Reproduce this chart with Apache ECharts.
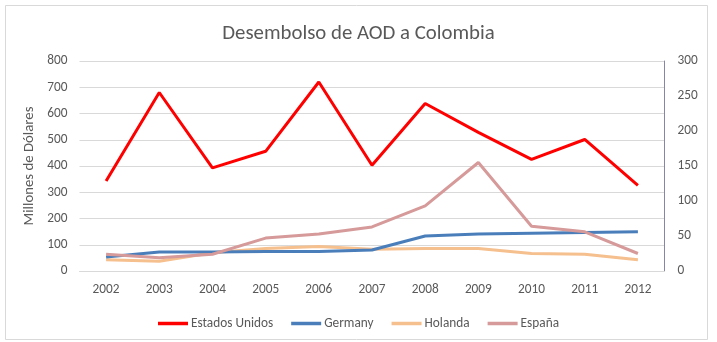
<!DOCTYPE html>
<html>
<head>
<meta charset="utf-8">
<script src="https://cdn.jsdelivr.net/npm/echarts@6/dist/echarts.min.js"></script>
<style>html,body{margin:0;padding:0;background:#fff;}#c{width:717px;height:342px;}</style>
</head>
<body>
<div id="c"></div>
<script>
const years = ['2002','2003','2004','2005','2006','2007','2008','2009','2010','2011','2012'];
const estadosUnidos = [343, 680, 393, 456, 720, 403, 638, 528, 425, 501, 326];
const germany = [20, 27, 27, 28, 28, 30, 50, 53, 54, 55, 56];
const holanda = [16, 14, 26, 32, 35, 31, 32, 32, 25, 24, 16];
const espana = [24, 19, 24, 47, 53, 63, 93, 155, 64, 56, 25];

const chart = echarts.init(document.getElementById('c'));
const font = 'Calibri, Carlito, "Open Sans", "Noto Sans", sans-serif';
const txt = '#595959';
function line(name, data, color, axis, z) {
  return {
    name, type: 'line', data, yAxisIndex: axis, symbol: 'none',
    lineStyle: { color, width: 3 }, itemStyle: { color }, z
  };
}
chart.setOption({
  animation: false,
  backgroundColor: '#fff',
  graphic: [{
    type: 'rect', shape: { x: 5.5, y: 5.5, width: 702, height: 334 },
    style: { fill: 'none', stroke: '#d9d9d9', lineWidth: 1 }, silent: true, z: -1
  }],
  title: {
    text: 'Desembolso de AOD a Colombia', left: 'center', top: 18,
    textStyle: { fontFamily: font, fontSize: 20.8, fontWeight: 'normal', color: txt }
  },
  grid: { left: 79.5, right: 52.5, top: 61, bottom: 71 },
  legend: {
    top: 312, left: 'center', itemWidth: 30, itemHeight: 3.5, itemGap: 18,
    icon: 'rect',
    textStyle: { fontFamily: font, fontSize: 13.3, color: txt, padding: [0, 0, 0, -2] },
    data: ['Estados Unidos', 'Germany', 'Holanda', 'España']
  },
  xAxis: {
    type: 'category', data: years, boundaryGap: true,
    axisLine: { lineStyle: { color: '#d9d9d9' } },
    axisTick: { show: false },
    axisLabel: { fontFamily: font, fontSize: 13.3, color: txt, margin: 12 }
  },
  yAxis: [{
    type: 'value', min: 0, max: 800, interval: 100,
    name: 'Millones de Dólares', nameLocation: 'middle', nameGap: 33,
    nameTextStyle: { fontFamily: font, fontSize: 14.8, color: txt },
    axisLine: { show: false }, axisTick: { show: false },
    axisLabel: { fontFamily: font, fontSize: 13.3, color: txt, margin: 12 },
    splitLine: { lineStyle: { color: '#d9d9d9' } }
  }, {
    type: 'value', min: 0, max: 300, interval: 50, position: 'right',
    axisLine: { show: true, lineStyle: { color: '#8585a8' } }, axisTick: { show: false },
    axisLabel: { fontFamily: font, fontSize: 13.3, color: txt, margin: 13 },
    splitLine: { show: false }
  }],
  series: [
    line('Estados Unidos', estadosUnidos, '#ff0000', 0, 5),
    line('Germany', germany, '#4a7ebb', 1, 4),
    line('Holanda', holanda, '#f6bf8e', 1, 3),
    line('España', espana, '#d59a99', 1, 4)
  ]
});
</script>
</body>
</html>
